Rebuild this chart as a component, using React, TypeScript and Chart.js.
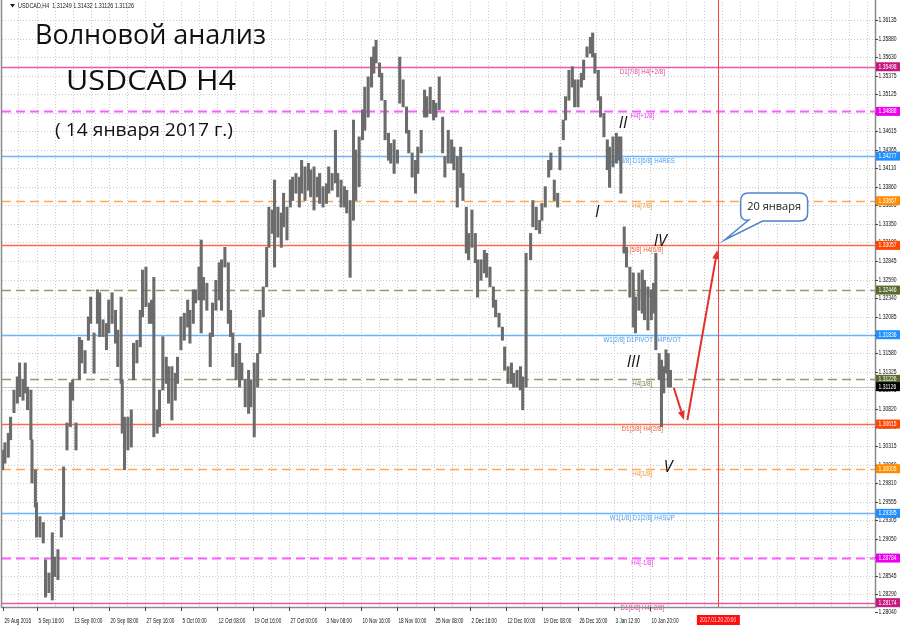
import React, { useEffect, useRef } from 'react';
import { Chart, registerables } from 'chart.js';

Chart.register(...registerables);

// ---------------- DATA ----------------
const symbolTitle = 'USDCAD,H4';
const headerOHLC = ['1.31249', '1.31432', '1.31126', '1.31126'];

// H4 bar index (from 29 Aug 2016) of each sampled price column
const sampleBars = [
  0, 2, 5, 7, 10, 13, 15, 18, 20, 22, 25, 26, 29, 30, 33, 36, 38, 41, 44, 46,
  49, 52, 54, 57, 60, 62, 65, 68, 70, 73, 76, 78, 81, 84, 86, 89, 92, 94, 97, 100,
  102, 105, 106, 108, 111, 114, 116, 119, 122, 124, 127, 130, 132, 134, 137, 139, 142, 145, 147, 150,
  153, 155, 158, 161, 164, 166, 169, 171, 174, 176, 178, 181, 184, 186, 189, 192, 194, 197, 200,
  202, 204, 207, 210, 212, 215, 218, 220, 223, 226, 228, 231, 234, 236, 239, 241, 244, 247, 249, 252,
  255, 257, 260, 263, 265, 268, 271, 273, 276, 279, 281, 284, 287, 289, 292, 295, 297, 300, 303, 305,
  308, 311, 313, 316, 319, 321, 324, 327, 329, 331, 334, 336, 339, 342, 344, 347, 350, 352, 355, 358,
  360, 363, 366, 368, 371, 374, 376, 379, 382, 384, 387, 390, 392, 395, 398, 400, 403,
  406, 408, 411, 413, 416, 419, 421, 424, 427, 429, 432, 435, 437, 440, 443, 445, 448, 451, 453, 456,
  459, 461, 464, 468, 470, 473, 476, 478, 481, 484, 486, 489, 492, 494, 497, 499, 502, 505, 507, 510,
  513, 515, 518, 521, 523, 525, 528, 530, 533, 536, 538, 541, 544, 546, 548, 551, 553, 556, 559, 561,
  564, 567, 569, 572, 575, 577, 579, 582, 584, 586, 588, 590, 592,
];

const sampleLows = [
  1.2999, 1.3008, 1.3016, 1.3040, 1.3077, 1.3090, 1.3099, 1.3094, 1.3104, 1.3081, 1.3040, 1.2981, 1.2948, 1.2907, 1.2907, 1.2899, 1.2825, 1.2831, 1.2821, 1.2853,
  1.2849, 1.2907, 1.2931, 1.3026, 1.3058, 1.3094, 1.3026, 1.3122, 1.3145, 1.3131, 1.3176, 1.3199, 1.3131, 1.3199, 1.3181, 1.3181, 1.3163, 1.3186, 1.3199, 1.3172,
  1.3140, 1.3117, 1.3049, 1.2999, 1.3026, 1.3030, 1.3122, 1.3145, 1.3167, 1.3208, 1.3222, 1.3199, 1.3199, 1.3044, 1.3049, 1.3058, 1.3108, 1.3117, 1.3090, 1.3067,
  1.3094, 1.3117, 1.3163, 1.3176, 1.3194, 1.3172, 1.3199, 1.3227, 1.3231, 1.3186, 1.3231, 1.3217, 1.3140, 1.3181, 1.3217, 1.3231, 1.3217, 1.3276, 1.3199,
  1.3181, 1.3140, 1.3122, 1.3112, 1.3122, 1.3085, 1.3076, 1.3085, 1.3044, 1.3112, 1.3158, 1.3208, 1.3249, 1.3303, 1.3322, 1.3276, 1.3317, 1.3303, 1.3331, 1.3313,
  1.3358, 1.3367, 1.3377, 1.3358, 1.3377, 1.3367, 1.3381, 1.3372, 1.3354, 1.3372, 1.3363, 1.3358, 1.3363, 1.3377, 1.3381, 1.3391, 1.3372, 1.3358, 1.3358, 1.3350,
  1.3262, 1.3340, 1.3367, 1.3386, 1.3450, 1.3463, 1.3481, 1.3522, 1.3541, 1.3555, 1.3536, 1.3504, 1.3450, 1.3422, 1.3418, 1.3404, 1.3418, 1.3500, 1.3495, 1.3459,
  1.3432, 1.3399, 1.3377, 1.3404, 1.3432, 1.3481, 1.3481, 1.3486, 1.3477, 1.3481, 1.3491, 1.3432, 1.3399, 1.3418, 1.3418, 1.3409, 1.3358,
  1.3385, 1.3367, 1.3295, 1.3286, 1.3303, 1.3282, 1.3235, 1.3258, 1.3268, 1.3262, 1.3249, 1.3221, 1.3208, 1.3194, 1.3176, 1.3135, 1.3117, 1.3117, 1.3112, 1.3112,
  1.3108, 1.3081, 1.3112, 1.3286, 1.3331, 1.3327, 1.3322, 1.3340, 1.3358, 1.3399, 1.3409, 1.3367, 1.3358, 1.3409, 1.3450, 1.3477, 1.3504, 1.3522, 1.3495, 1.3495,
  1.3522, 1.3532, 1.3563, 1.3568, 1.3563, 1.3541, 1.3504, 1.3481, 1.3454, 1.3409, 1.3385, 1.3413, 1.3418, 1.3422, 1.3377, 1.3295, 1.3276, 1.3235, 1.3194, 1.3186,
  1.3217, 1.3213, 1.3204, 1.3190, 1.3204, 1.3213, 1.3163, 1.3122, 1.3058, 1.3104, 1.3131, 1.3112, 1.3112,
];

const sampleHighs = [
  1.3026, 1.3036, 1.3049, 1.3071, 1.3108, 1.3126, 1.3145, 1.3122, 1.3145, 1.3112, 1.3108, 1.3040, 1.2999, 1.2954, 1.2935, 1.2927, 1.2876, 1.2858, 1.2913, 1.2880,
  1.2890, 1.2935, 1.3003, 1.3063, 1.3118, 1.3122, 1.3063, 1.3180, 1.3176, 1.3162, 1.3208, 1.3235, 1.3186, 1.3245, 1.3241, 1.3204, 1.3199, 1.3231, 1.3241, 1.3217,
  1.3190, 1.3235, 1.3122, 1.3071, 1.3071, 1.3081, 1.3172, 1.3176, 1.3217, 1.3272, 1.3276, 1.3227, 1.3231, 1.3262, 1.3081, 1.3108, 1.3181, 1.3153, 1.3140, 1.3140,
  1.3131, 1.3153, 1.3208, 1.3213, 1.3231, 1.3217, 1.3245, 1.3245, 1.3276, 1.3313, 1.3262, 1.3254, 1.3186, 1.3227, 1.3258, 1.3282, 1.3286, 1.3303, 1.3282,
  1.3217, 1.3186, 1.3158, 1.3172, 1.3145, 1.3122, 1.3135, 1.3122, 1.3145, 1.3158, 1.3217, 1.3249, 1.3303, 1.3358, 1.3354, 1.3395, 1.3358, 1.3350, 1.3377, 1.3358,
  1.3395, 1.3399, 1.3404, 1.3399, 1.3422, 1.3413, 1.3418, 1.3409, 1.3413, 1.3399, 1.3404, 1.3386, 1.3390, 1.3413, 1.3404, 1.3463, 1.3404, 1.3395, 1.3386, 1.3381,
  1.3367, 1.3477, 1.3436, 1.3454, 1.3491, 1.3522, 1.3536, 1.3563, 1.3577, 1.3586, 1.3555, 1.3541, 1.3504, 1.3459, 1.3445, 1.3450, 1.3436, 1.3563, 1.3532, 1.3495,
  1.3463, 1.3432, 1.3422, 1.3440, 1.3463, 1.3518, 1.3509, 1.3522, 1.3504, 1.3500, 1.3536, 1.3481, 1.3427, 1.3463, 1.3450, 1.3440, 1.3427,
  1.3440, 1.3404, 1.3358, 1.3322, 1.3354, 1.3322, 1.3286, 1.3286, 1.3299, 1.3295, 1.3276, 1.3249, 1.3231, 1.3213, 1.3194, 1.3167, 1.3140, 1.3145, 1.3131, 1.3135,
  1.3140, 1.3126, 1.3295, 1.3322, 1.3367, 1.3358, 1.3340, 1.3363, 1.3386, 1.3422, 1.3432, 1.3395, 1.3377, 1.3440, 1.3477, 1.3509, 1.3545, 1.3550, 1.3532, 1.3532,
  1.3541, 1.3559, 1.3577, 1.3590, 1.3596, 1.3568, 1.3545, 1.3509, 1.3486, 1.3450, 1.3440, 1.3454, 1.3459, 1.3454, 1.3454, 1.3331, 1.3303, 1.3276, 1.3268, 1.3235,
  1.3268, 1.3272, 1.3258, 1.3249, 1.3245, 1.3254, 1.3295, 1.3158, 1.3149, 1.3140, 1.3163, 1.3158, 1.3135,
];

const priceTicks = [
  1.36135, 1.3588, 1.3563, 1.35375, 1.35125, 1.3487, 1.34615, 1.34365, 1.3411, 1.3386, 1.33605,
  1.3335, 1.331, 1.32845, 1.3259, 1.3234, 1.32085, 1.31835, 1.3158, 1.31325, 1.31075, 1.3082,
  1.3057, 1.30315, 1.3006, 1.2981, 1.29555, 1.29305, 1.2905, 1.288, 1.28545, 1.2829, 1.2804,
];

const dateTickBars = [0, 30, 62, 94, 126, 158, 190, 222, 254, 286, 318, 350, 382, 414, 446, 478, 510, 542, 574];
const dateTickLabels = [
  '29 Aug 2016', '5 Sep 16:00', '13 Sep 00:00', '20 Sep 08:00', '27 Sep 16:00', '5 Oct 00:00',
  '12 Oct 08:00', '19 Oct 16:00', '27 Oct 00:00', '3 Nov 08:00', '10 Nov 16:00', '18 Nov 00:00',
  '25 Nov 08:00', '2 Dec 16:00', '12 Dec 00:00', '19 Dec 08:00', '26 Dec 16:00', '3 Jan 12:00', '10 Jan 20:00',
];

const levelPrices = [1.35498, 1.34888, 1.34277, 1.33667, 1.33057, 1.32446, 1.31836, 1.31226, 1.30615, 1.30005, 1.29395, 1.28784, 1.28174];
const levelNames = [
  'D1[7/8] H4[+2/8]', 'H4[+1/8]', 'W1[3/8] D1[6/8] H4RES', 'H4[7/8]', 'D1[5/8] H4[6/8]', 'H4[5/8]',
  'W1[2/8] D1PIVOT H4PIVOT', 'H4[3/8]', 'D1[3/8] H4[2/8]', 'H4[1/8]', 'W1[1/8] D1[2/8] H4SUP', 'H4[-1/8]', 'D1[1/8] H4[-2/8]',
];
const levelKinds = ['pink', 'magenta', 'blue', 'orange', 'red', 'olive', 'blue', 'olive', 'red', 'orange', 'blue', 'magenta', 'pink'];
const levelLabelBar = 567;

const currentPrice = 1.31126;

const forecastBar = 634;
const forecastLabel = '2017.01.20 20:00';

const titleLines = ['Волновой анализ', 'USDCAD H4', '( 14 января 2017 г.)'];

const waveNames = ['I', 'II', 'III', 'IV', 'V'];
const waveBars = [527, 550, 559, 583, 590];
const wavePrices = [1.33513, 1.34729, 1.31463, 1.33117, 1.30028];

const arrowStartBars = [595, 607];
const arrowStartPrices = [1.31108, 1.30671];
const arrowEndBars = [604, 633.5];
const arrowEndPrices = [1.30671, 1.32994];

const calloutText = '20 января';
const calloutTipBar = 640;
const calloutTipPrice = 1.3313;

// ---------------- STYLE ----------------
const X_MIN = -0.6;
const X_MAX = 773.3;
const Y_MIN = 1.28115;
const Y_MAX = 1.36383;

const LEVEL_STYLES: Record<string, { line: string; box: string; text: string; dash: number[]; width: number }> = {
  pink: { line: '#ea5aa8', box: '#c8177f', text: '#d9489a', dash: [], width: 1.4 },
  magenta: { line: '#ff5cff', box: '#ee00ee', text: '#e83ee8', dash: [9, 5], width: 2 },
  blue: { line: '#6ab4ff', box: '#1e8fff', text: '#4aa0f0', dash: [], width: 1.5 },
  orange: { line: '#ffa850', box: '#ff8c00', text: '#f09a38', dash: [9, 5], width: 1.3 },
  red: { line: '#ff6a4a', box: '#ff4500', text: '#f06040', dash: [], width: 1.4 },
  olive: { line: '#8f9f6c', box: '#556b2f', text: '#75864c', dash: [9, 5], width: 1.3 },
};

const SMALL_FONT = "6.5px 'Liberation Sans', Arial, sans-serif";
const HAND_FONT = "'Open Sans', 'DejaVu Sans', sans-serif";

function drawScaled(ctx: CanvasRenderingContext2D, text: string, x: number, y: number, sx: number, align: CanvasTextAlign) {
  ctx.save();
  ctx.translate(x, y);
  ctx.scale(sx, 1);
  ctx.textAlign = align;
  ctx.fillText(text, 0, 0);
  ctx.restore();
}

function drawFit(ctx: CanvasRenderingContext2D, text: string, x: number, y: number, width: number) {
  const w = ctx.measureText(text).width || 1;
  drawScaled(ctx, text, x, y, width / w, 'left');
}

function seg(ctx: CanvasRenderingContext2D, x1: number, y1: number, x2: number, y2: number) {
  ctx.beginPath();
  ctx.moveTo(x1, y1);
  ctx.lineTo(x2, y2);
  ctx.stroke();
}

function arrow(ctx: CanvasRenderingContext2D, x1: number, y1: number, x2: number, y2: number) {
  const ang = Math.atan2(y2 - y1, x2 - x1);
  const hl = 9;
  const hw = 3.5;
  const bx = x2 - Math.cos(ang) * hl;
  const by = y2 - Math.sin(ang) * hl;
  seg(ctx, x1, y1, bx, by);
  ctx.beginPath();
  ctx.moveTo(x2, y2);
  ctx.lineTo(bx + Math.sin(ang) * hw, by - Math.cos(ang) * hw);
  ctx.lineTo(bx - Math.sin(ang) * hw, by + Math.cos(ang) * hw);
  ctx.closePath();
  ctx.fill();
}

const overlayPlugin = {
  id: 'mtOverlay',
  beforeDatasetsDraw(chart: any) {
    const { ctx, chartArea: a, scales } = chart;
    const xs = scales.x;
    const ys = scales.y;
    ctx.save();
    // dotted grid
    ctx.strokeStyle = '#cbcbcb';
    ctx.lineWidth = 1;
    ctx.setLineDash([1, 2]);
    for (const t of priceTicks) {
      const py = Math.round(ys.getPixelForValue(t)) + 0.5;
      if (py < a.top || py > a.bottom) continue;
      seg(ctx, a.left, py, a.right, py);
    }
    for (let b = 14; b <= X_MAX; b += 16) {
      const px = Math.round(xs.getPixelForValue(b)) + 0.5;
      seg(ctx, px, a.top, px, a.bottom);
    }
    // current price line
    ctx.setLineDash([]);
    ctx.strokeStyle = '#c4c4c4';
    const cpy = Math.round(ys.getPixelForValue(currentPrice)) + 0.5;
    seg(ctx, a.left, cpy, a.right, cpy);
    // level lines
    levelPrices.forEach((p, i) => {
      const st = LEVEL_STYLES[levelKinds[i]];
      const py = Math.round(ys.getPixelForValue(p)) + 0.5;
      ctx.strokeStyle = st.line;
      ctx.lineWidth = st.width;
      ctx.setLineDash(st.dash);
      seg(ctx, a.left, py, a.right, py);
      ctx.setLineDash([]);
      ctx.fillStyle = st.text;
      ctx.font = SMALL_FONT;
      ctx.textBaseline = 'top';
      drawScaled(ctx, levelNames[i], xs.getPixelForValue(levelLabelBar), py + 1.5, 0.95, 'center');
    });
    // forecast vertical line
    ctx.strokeStyle = '#ff3b3b';
    ctx.lineWidth = 1;
    const fx = Math.round(xs.getPixelForValue(forecastBar)) + 0.5;
    seg(ctx, fx, 0, fx, a.bottom);
    ctx.restore();
  },
  afterDraw(chart: any) {
    const { ctx, chartArea: a, scales } = chart;
    const xs = scales.x;
    const ys = scales.y;
    const W = chart.width;
    const H = chart.height;
    ctx.save();
    // frame
    ctx.strokeStyle = '#8a8a8a';
    ctx.lineWidth = 1.5;
    seg(ctx, a.right + 0.5, 0, a.right + 0.5, a.bottom + 1);
    seg(ctx, 1, a.bottom + 0.5, a.right + 1, a.bottom + 0.5);
    seg(ctx, 1.5, 0, 1.5, a.bottom + 1);

    // price axis labels
    ctx.font = SMALL_FONT;
    ctx.textBaseline = 'middle';
    ctx.fillStyle = '#111';
    ctx.strokeStyle = '#444';
    ctx.lineWidth = 1;
    for (const t of priceTicks) {
      const py = Math.round(ys.getPixelForValue(t)) + 0.5;
      if (py > H) continue;
      seg(ctx, a.right, py, a.right + 3, py);
      drawScaled(ctx, t.toFixed(5), a.right + 3.5, py, 0.77, 'left');
    }
    // colored price boxes
    const box = (p: number, bg: string) => {
      const py = ys.getPixelForValue(p);
      ctx.fillStyle = bg;
      ctx.fillRect(a.right + 1, py - 4.5, W - a.right - 1, 9);
      ctx.fillStyle = '#ffffff';
      drawScaled(ctx, p.toFixed(5), a.right + 3.5, py + 0.3, 0.77, 'left');
    };
    levelPrices.forEach((p, i) => box(p, LEVEL_STYLES[levelKinds[i]].box));
    box(currentPrice, '#000000');

    // date axis
    ctx.fillStyle = '#111';
    ctx.strokeStyle = '#444';
    dateTickBars.forEach((b, i) => {
      const px = Math.round(xs.getPixelForValue(b)) + 0.5;
      seg(ctx, px, a.bottom, px, a.bottom + 4);
      drawScaled(ctx, dateTickLabels[i], px + 1, a.bottom + 14, 0.72, 'left');
    });
    // forecast date box
    const fx = xs.getPixelForValue(forecastBar);
    ctx.fillStyle = '#ff1010';
    ctx.fillRect(fx - 21, a.bottom + 8, 43, 10);
    ctx.fillStyle = '#ffe0e0';
    drawScaled(ctx, forecastLabel, fx, a.bottom + 13.5, 0.72, 'center');

    // header
    ctx.fillStyle = '#222';
    ctx.beginPath();
    ctx.moveTo(10, 4);
    ctx.lineTo(15, 4);
    ctx.lineTo(12.5, 7.5);
    ctx.closePath();
    ctx.fill();
    ctx.font = "6.5px 'Liberation Sans', Arial, sans-serif";
    ctx.textBaseline = 'middle';
    drawScaled(ctx, symbolTitle + '  ' + headerOHLC.join(' '), 18, 6, 0.83, 'left');

    // titles
    ctx.fillStyle = '#111';
    ctx.textBaseline = 'alphabetic';
    ctx.font = `28px ${HAND_FONT}`;
    drawFit(ctx, titleLines[0], 35, 44, 231);
    drawFit(ctx, titleLines[1], 66, 90, 170);
    ctx.font = `18px ${HAND_FONT}`;
    drawFit(ctx, titleLines[2], 55, 136, 178);

    // wave labels
    ctx.font = `italic 16px ${HAND_FONT}`;
    ctx.textBaseline = 'middle';
    ctx.textAlign = 'center';
    waveNames.forEach((n, i) => {
      ctx.fillText(n, xs.getPixelForValue(waveBars[i]), ys.getPixelForValue(wavePrices[i]));
    });

    // arrows
    ctx.strokeStyle = '#e3312b';
    ctx.fillStyle = '#e3312b';
    ctx.lineWidth = 2;
    arrowStartBars.forEach((b, i) => {
      arrow(
        ctx,
        xs.getPixelForValue(b), ys.getPixelForValue(arrowStartPrices[i]),
        xs.getPixelForValue(arrowEndBars[i]), ys.getPixelForValue(arrowEndPrices[i]),
      );
    });

    // callout
    const tx = xs.getPixelForValue(calloutTipBar);
    const ty = ys.getPixelForValue(calloutTipPrice);
    const bx = tx + 16;
    const by = ty - 47;
    const bw = 67;
    const bh = 28;
    const r = 8;
    ctx.beginPath();
    ctx.moveTo(bx + r, by);
    ctx.lineTo(bx + bw - r, by);
    ctx.quadraticCurveTo(bx + bw, by, bx + bw, by + r);
    ctx.lineTo(bx + bw, by + bh - r);
    ctx.quadraticCurveTo(bx + bw, by + bh, bx + bw - r, by + bh);
    ctx.lineTo(bx + 22, by + bh);
    ctx.lineTo(tx, ty);
    ctx.lineTo(bx + 8, by + bh - 1);
    ctx.quadraticCurveTo(bx, by + bh, bx, by + bh - r);
    ctx.lineTo(bx, by + r);
    ctx.quadraticCurveTo(bx, by, bx + r, by);
    ctx.closePath();
    ctx.fillStyle = '#ffffff';
    ctx.fill();
    ctx.strokeStyle = '#4f82cf';
    ctx.lineWidth = 1.5;
    ctx.stroke();
    ctx.fillStyle = '#222';
    ctx.font = `11px ${HAND_FONT}`;
    ctx.textAlign = 'center';
    ctx.textBaseline = 'middle';
    ctx.fillText(calloutText, bx + bw / 2, by + bh / 2);
    ctx.restore();
  },
};

export default function App() {
  const canvasRef = useRef<HTMLCanvasElement>(null);

  useEffect(() => {
    const canvas = canvasRef.current;
    if (!canvas) return;
    const n = Math.min(sampleBars.length, sampleLows.length, sampleHighs.length);
    const points = [];
    for (let i = 0; i < n; i++) {
      points.push({ x: sampleBars[i], y: [sampleLows[i], sampleHighs[i]] });
    }
    const chart = new Chart(canvas, {
      type: 'bar',
      data: {
        datasets: [
          {
            data: points as any,
            backgroundColor: '#6c6c6c',
            borderWidth: 0,
            barThickness: 2.4,
          },
        ],
      },
      options: {
        animation: false,
        responsive: false,
        maintainAspectRatio: false,
        events: [],
        layout: { padding: { left: 2, right: 25, top: 2, bottom: 22 } },
        plugins: { legend: { display: false }, tooltip: { enabled: false } },
        scales: {
          x: { type: 'linear', min: X_MIN, max: X_MAX, display: false, offset: false },
          y: { type: 'linear', min: Y_MIN, max: Y_MAX, display: false },
        },
      },
      plugins: [overlayPlugin],
    });
    return () => chart.destroy();
  }, []);

  return (
    <div style={{ position: 'fixed', left: 0, top: 0, width: 900, height: 629, background: '#ffffff' }}>
      <canvas ref={canvasRef} width={900} height={629} style={{ display: 'block' }} />
    </div>
  );
}
